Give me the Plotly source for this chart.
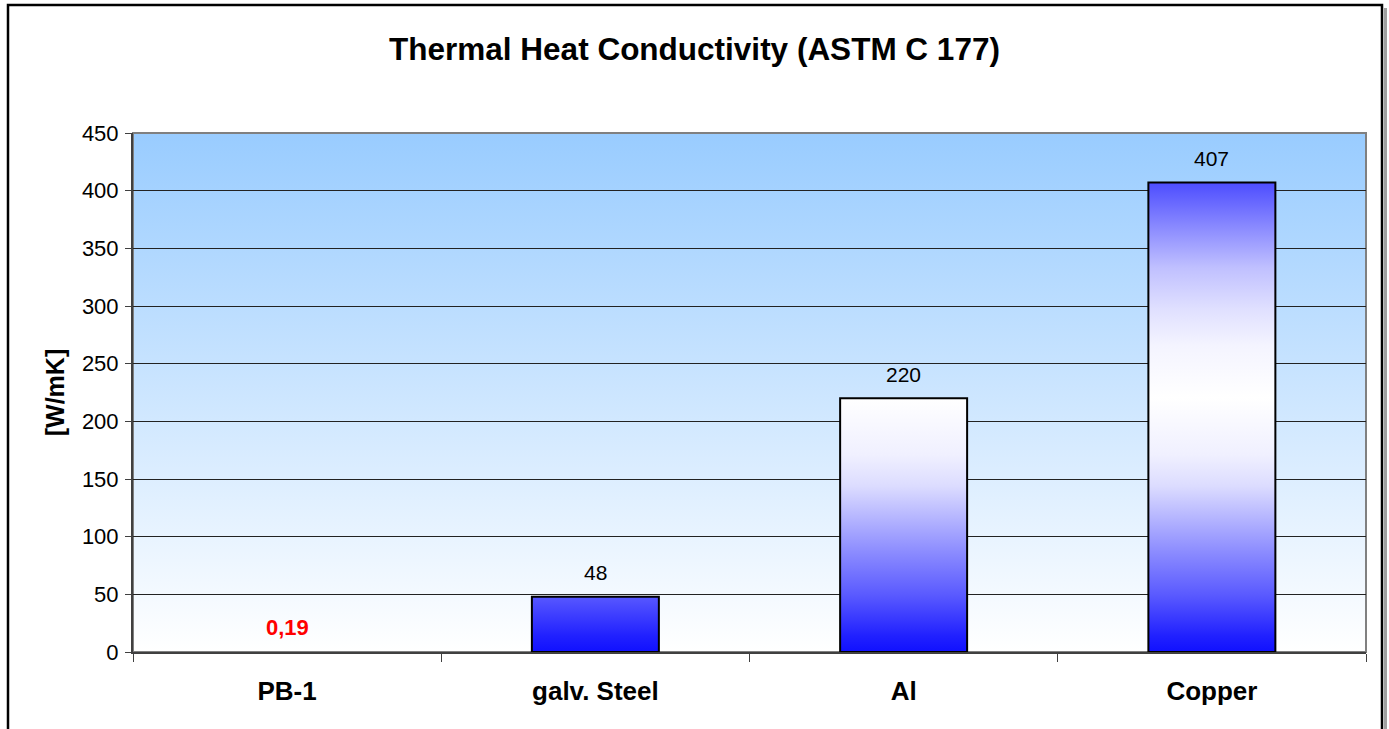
import base64
import plotly.graph_objects as go

# ---- data ----
categories = ["PB-1", "galv. Steel", "Al", "Copper"]
values = [0.19, 48, 220, 407]
value_labels = ["0,19", "48", "220", "407"]
label_colors = ["#FF0000", "#000000", "#000000", "#000000"]
label_weights = ["bold", "normal", "normal", "normal"]
y_ticks = [0, 50, 100, 150, 200, 250, 300, 350, 400, 450]
y_max = 450

# ---- styles ----
FONT = "Liberation Sans, Arial, sans-serif"
HALF = 0.206
BAR_SCALE = [
    [0.00, "#1010FF"], [0.03, "#2020FF"], [0.11, "#5A5AFF"], [0.19, "#8A8AFF"],
    [0.25, "#B0B0FF"], [0.32, "#DCDCFF"], [0.38, "#F0F0FF"], [0.49, "#FFFFFF"],
    [0.59, "#F4F4FF"], [0.66, "#E0E0FF"], [0.74, "#C0C0FF"], [0.81, "#9090FF"],
    [0.90, "#5050FF"], [1.00, "#2020FF"],
]

svg = ('<svg xmlns="http://www.w3.org/2000/svg" width="100" height="100" preserveAspectRatio="none">'
       '<defs><linearGradient id="g" x1="0" y1="0" x2="0" y2="1">'
       '<stop offset="0" stop-color="#99CCFF"/><stop offset="1" stop-color="#FFFFFF"/>'
       '</linearGradient></defs><rect width="100" height="100" fill="url(#g)"/></svg>')
bg_src = "data:image/svg+xml;base64," + base64.b64encode(svg.encode()).decode()

fig = go.Figure()
for i, (c, v) in enumerate(zip(categories, values)):
    x0, x1 = i - HALF, i + HALF
    fig.add_trace(go.Scatter(
        x=[x0, x1, x1, x0, x0], y=[0, 0, v, v, 0], mode="lines", fill="toself",
        line=dict(color="black", width=2 if v > 1 else 0),
        fillgradient=dict(type="vertical", colorscale=BAR_SCALE, start=0, stop=y_max),
        hoverinfo="skip", name=c, showlegend=False,
    ))

for i, (v, t, col, w) in enumerate(zip(values, value_labels, label_colors, label_weights)):
    fig.add_annotation(x=i, y=v, text=t, showarrow=False, yanchor="middle", yshift=24,
                       font=dict(family=FONT, size=21 if w == "normal" else 22, color=col, weight=w))

boundaries = [i - 0.5 for i in range(len(categories) + 1)]

W, H = 1389, 729
ml, mr, mt, mb = 133, 23, 133, 77
pw, ph = W - ml - mr, H - mt - mb

fig.update_layout(
    width=W, height=H,
    margin=dict(l=ml, r=mr, t=mt, b=mb),
    paper_bgcolor="white", plot_bgcolor="white",
    showlegend=False,
    title=dict(text="Thermal Heat Conductivity (ASTM C 177)", x=0.5, xref="container",
               xanchor="center", y=1 - 49 / H, yref="container", yanchor="middle",
               font=dict(family=FONT, size=31.5, color="black", weight="bold")),
    xaxis=dict(range=[-0.5, len(categories) - 0.5], tickmode="array",
               tickvals=list(range(len(categories))), ticktext=categories, ticks="",
               showgrid=False, zeroline=False, showline=True, linecolor="#404040", linewidth=2,
               tickfont=dict(family=FONT, size=26, color="black", weight="bold"),
               ticklabelstandoff=15,
               minor=dict(tickmode="array", tickvals=boundaries, ticks="outside", ticklen=8,
                          tickcolor="#404040", tickwidth=1, showgrid=False)),
    yaxis=dict(range=[0, y_max], tickmode="array", tickvals=y_ticks,
               showgrid=True, gridcolor="#222222", gridwidth=1, zeroline=False,
               showline=True, linecolor="#404040", linewidth=2,
               ticks="outside", ticklen=6, tickcolor="#404040",
               tickfont=dict(family=FONT, size=22, color="black"),
               ticklabelstandoff=2,
               title=dict(text="[W/mK]", standoff=10,
                          font=dict(family=FONT, size=25, color="black", weight="bold"))),
    images=[dict(source=bg_src, xref="paper", yref="paper", x=0, y=1, sizex=1, sizey=1,
                 sizing="stretch", xanchor="left", yanchor="top", layer="below")],
    shapes=[
        dict(type="rect", xref="paper", yref="paper", x0=0, x1=1, y0=0, y1=1,
             line=dict(color="#808080", width=2), layer="below"),
        dict(type="rect", xref="paper", yref="paper",
             x0=(8 - ml) / pw, x1=(1382 - ml) / pw, y0=-(760 - (H - mb)) / ph, y1=(H - mb - 5) / ph,
             line=dict(color="black", width=2.5)),
        dict(type="line", xref="paper", yref="paper",
             x0=(1385.5 - ml) / pw, x1=(1385.5 - ml) / pw, y0=-(760 - (H - mb)) / ph, y1=(H - mb - 8) / ph,
             line=dict(color="#A0A0A0", width=3)),
    ],
)

fig.write_html("out.html", config={"displayModeBar": False},
               post_script="document.body.style.margin='0';document.body.style.overflow='hidden';")
